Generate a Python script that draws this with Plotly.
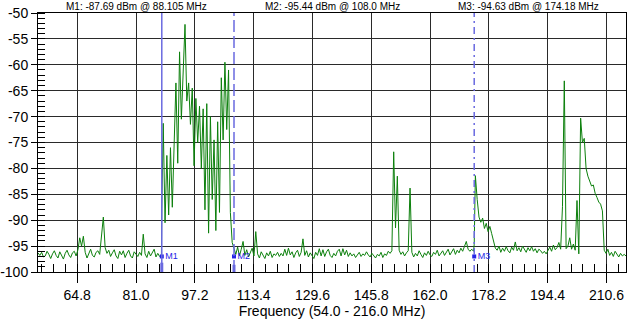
import numpy as np
import plotly.graph_objects as go

# Sweep settings (MHz)
f_start, f_stop, f_step = 54.0, 216.0, 0.5

# Trace level (dBm) for each sweep point, one row per 5 MHz
level_dbm = [
    -96.3, -96.8, -96.2, -97.1, -96.9, -96.0, -96.6, -97.4, -96.5, -95.9,   # 54.0
    -96.8, -97.3, -96.1, -96.9, -97.5, -96.4, -95.8, -96.7, -97.2, -96.3,   # 59.0
    -96.0, -96.9, -95.7, -93.4, -95.0, -93.1, -96.2, -97.3, -96.5, -95.6,   # 64.0
    -96.8, -97.1, -96.2, -95.9, -96.6, -92.5, -89.4, -95.3, -96.4, -95.8,   # 69.0
    -97.0, -96.3, -95.7, -96.9, -97.4, -96.0, -96.7, -95.9, -97.2, -96.4,   # 74.0
    -95.8, -96.9, -97.3, -96.1, -96.6, -97.0, -96.2, -96.8, -92.7, -96.5,   # 79.0
    -97.2, -96.0, -96.9, -96.3, -95.6, -97.1, -96.4, -97.0, -96.9, -71.3,   # 84.0
    -90.5, -77.5, -89.0, -76.0, -87.5, -75.0, -63.5, -79.0, -57.5, -70.5,   # 89.0
    -61.0, -52.2, -67.0, -63.5, -71.5, -64.5, -79.5, -66.5, -75.0, -68.0,   # 94.0
    -80.0, -68.5, -88.0, -67.5, -92.5, -70.0, -86.0, -74.5, -92.0, -71.0,   # 99.0
    -88.5, -62.5, -74.5, -59.5, -72.5, -61.0, -88.5, -94.3, -95.4, -96.6,   # 104.0
    -95.2, -96.9, -95.6, -94.1, -96.8, -95.7, -97.1, -96.2, -95.4, -96.9,   # 109.0
    -92.2, -96.5, -97.3, -96.1, -96.8, -97.4, -96.3, -96.9, -96.0, -97.2,   # 114.0
    -96.5, -96.8, -96.2, -97.0, -96.4, -96.9, -95.6, -96.8, -95.4, -96.7,   # 119.0
    -96.1, -97.2, -96.3, -95.8, -97.0, -96.2, -93.6, -96.8, -95.9, -97.1,   # 124.0
    -96.3, -96.9, -97.4, -96.2, -96.8, -95.5, -96.9, -95.7, -97.0, -96.1,   # 129.0
    -95.6, -96.8, -97.2, -96.4, -96.9, -96.0, -95.6, -96.9, -95.5, -96.7,   # 134.0
    -95.8, -97.0, -96.3, -96.9, -96.5, -97.2, -96.6, -96.2, -97.0, -96.5,   # 139.0
    -96.8, -96.1, -96.7, -97.1, -96.4, -96.9, -97.3, -96.6, -96.9, -96.2,   # 144.0
    -97.2, -96.5, -96.8, -96.0, -96.4, -95.9, -76.8, -91.5, -81.5, -95.8,   # 149.0
    -96.6, -96.1, -96.9, -96.3, -95.9, -83.8, -96.2, -97.1, -96.4, -96.9,   # 154.0
    -95.9, -96.6, -97.2, -96.3, -96.8, -96.0, -96.7, -97.0, -96.2, -96.6,   # 159.0
    -95.8, -96.9, -96.4, -95.9, -96.8, -96.1, -95.6, -96.7, -96.0, -95.5,   # 164.0
    -96.6, -95.8, -96.3, -95.4, -96.0, -95.2, -94.1, -95.6, -96.0, -95.6,   # 169.0
    -96.0, -81.4, -86.0, -89.4, -90.4, -89.6, -91.6, -90.6, -92.2, -91.2,   # 174.0
    -92.6, -93.8, -95.4, -95.8, -95.0, -96.2, -95.4, -96.0, -95.1, -95.9,   # 179.0
    -96.3, -95.2, -95.8, -94.2, -95.9, -95.3, -96.1, -95.0, -95.7, -96.2,   # 184.0
    -95.3, -95.9, -95.1, -96.0, -95.5, -96.3, -95.6, -95.9, -96.4, -96.0,   # 189.0
    -96.5, -95.7, -95.2, -96.0, -94.8, -95.7, -95.3, -94.3, -95.6, -87.4,   # 194.0
    -63.1, -95.5, -95.0, -93.4, -95.6, -94.6, -95.8, -86.2, -96.5, -70.3,   # 199.0
    -75.0, -74.2, -80.0, -81.5, -82.6, -83.4, -83.2, -84.8, -85.6, -86.5,   # 204.0
    -86.9, -88.2, -95.8, -96.4, -95.6, -96.8, -96.2, -97.0, -96.0, -96.7,   # 209.0
    -97.1, -96.4, -96.9, -96.6, -96.9,                                      # 214.0
]

# Markers
marker_names = ["M1", "M2", "M3"]
marker_freq = [88.105, 108.0, 174.18]
marker_level = [-87.69, -95.44, -94.63]
marker_dash = ["solid", "12px,4px", "7px,4px,2px,4px"]

# Axis ticks
x_ticks = [64.8, 81.0, 97.2, 113.4, 129.6, 145.8, 162.0, 178.2, 194.4, 210.6]
y_ticks = [-50, -55, -60, -65, -70, -75, -80, -85, -90, -95, -100]

sweep = np.round(np.arange(f_start, f_stop + f_step / 2, f_step), 3)
assert len(sweep) == len(level_dbm)

# Place the marker readings on the trace
keep = ~np.isin(sweep, marker_freq)
freq = np.concatenate([sweep[keep], marker_freq])
level = np.concatenate([np.array(level_dbm)[keep], marker_level])
order = np.argsort(freq)
freq, level = freq[order], level[order]

font_family = "Liberation Sans, Arial, sans-serif"
line_blue = "#6a6ae0"
text_blue = "#2525e6"

fig = go.Figure()
fig.add_trace(go.Scatter(
    x=freq, y=level, mode="lines",
    line=dict(color="#0c800c", width=1),
    hoverinfo="skip",
))

for name, f, dash in zip(marker_names, marker_freq, marker_dash):
    fig.add_shape(type="line", xref="x", yref="paper", x0=f, x1=f, y0=0, y1=1,
                  line=dict(color=line_blue, width=1.5, dash=dash))

# Marker flags at the bottom of each marker line
fig.add_trace(go.Scatter(
    x=marker_freq, y=[-97.0] * len(marker_freq), mode="markers+text",
    marker=dict(symbol="square", size=4, color=text_blue),
    text=marker_names, textposition="middle right",
    textfont=dict(family=font_family, size=9, color=text_blue),
    hoverinfo="skip", cliponaxis=False,
))
fig.add_trace(go.Scatter(
    x=[marker_freq[0], marker_freq[0], None, marker_freq[1], marker_freq[1]],
    y=[-98.2, -100, None, -98.6, -100], mode="lines",
    line=dict(color=line_blue, width=3), hoverinfo="skip",
))

# Marker readouts above the plot
for i, (name, f, lv) in enumerate(zip(marker_names, marker_freq, marker_level)):
    fig.add_annotation(
        text=f"{name}: {lv:.2f} dBm @ {f} MHz",
        xref="paper", yref="paper", x=(2 * i + 1) / 6, y=1,
        xanchor="center", yanchor="middle", yshift=7, showarrow=False,
        font=dict(family=font_family, size=10, color="black"),
    )

grid = "#2a2a2a"
fig.update_xaxes(
    range=[f_start, f_stop], tickvals=x_ticks, ticktext=[f"{v:.1f}" for v in x_ticks],
    ticks="outside", ticklen=10, tickcolor="black", automargin=False,
    showgrid=True, gridcolor=grid, gridwidth=1, zeroline=False,
    showline=True, linecolor="black", linewidth=1, mirror=True,
    minor=dict(ticks="inside", ticklen=8, tick0=64.8, dtick=3.24,
               tickcolor="black", showgrid=False),
    tickfont=dict(family=font_family, size=14, color="black"),
    title=dict(text="Frequency (54.0 - 216.0 MHz)", standoff=4,
               font=dict(family=font_family, size=14, color="black")),
)
fig.update_yaxes(
    range=[-100, -50], tickvals=y_ticks, ticktext=[str(v) for v in y_ticks],
    ticks="outside", ticklen=6, tickcolor="black", automargin=False,
    showgrid=True, gridcolor=grid, gridwidth=1, zeroline=False,
    showline=True, linecolor="black", linewidth=1, mirror=True,
    minor=dict(ticks="inside", ticklen=7, tick0=-100, dtick=1,
               tickcolor="black", showgrid=False),
    tickfont=dict(family=font_family, size=14, color="black"),
)
fig.update_layout(
    width=640, height=325,
    margin=dict(l=38, r=14, t=13, b=53),
    plot_bgcolor="white", paper_bgcolor="white",
    showlegend=False,
)

fig.write_html("out.html")
